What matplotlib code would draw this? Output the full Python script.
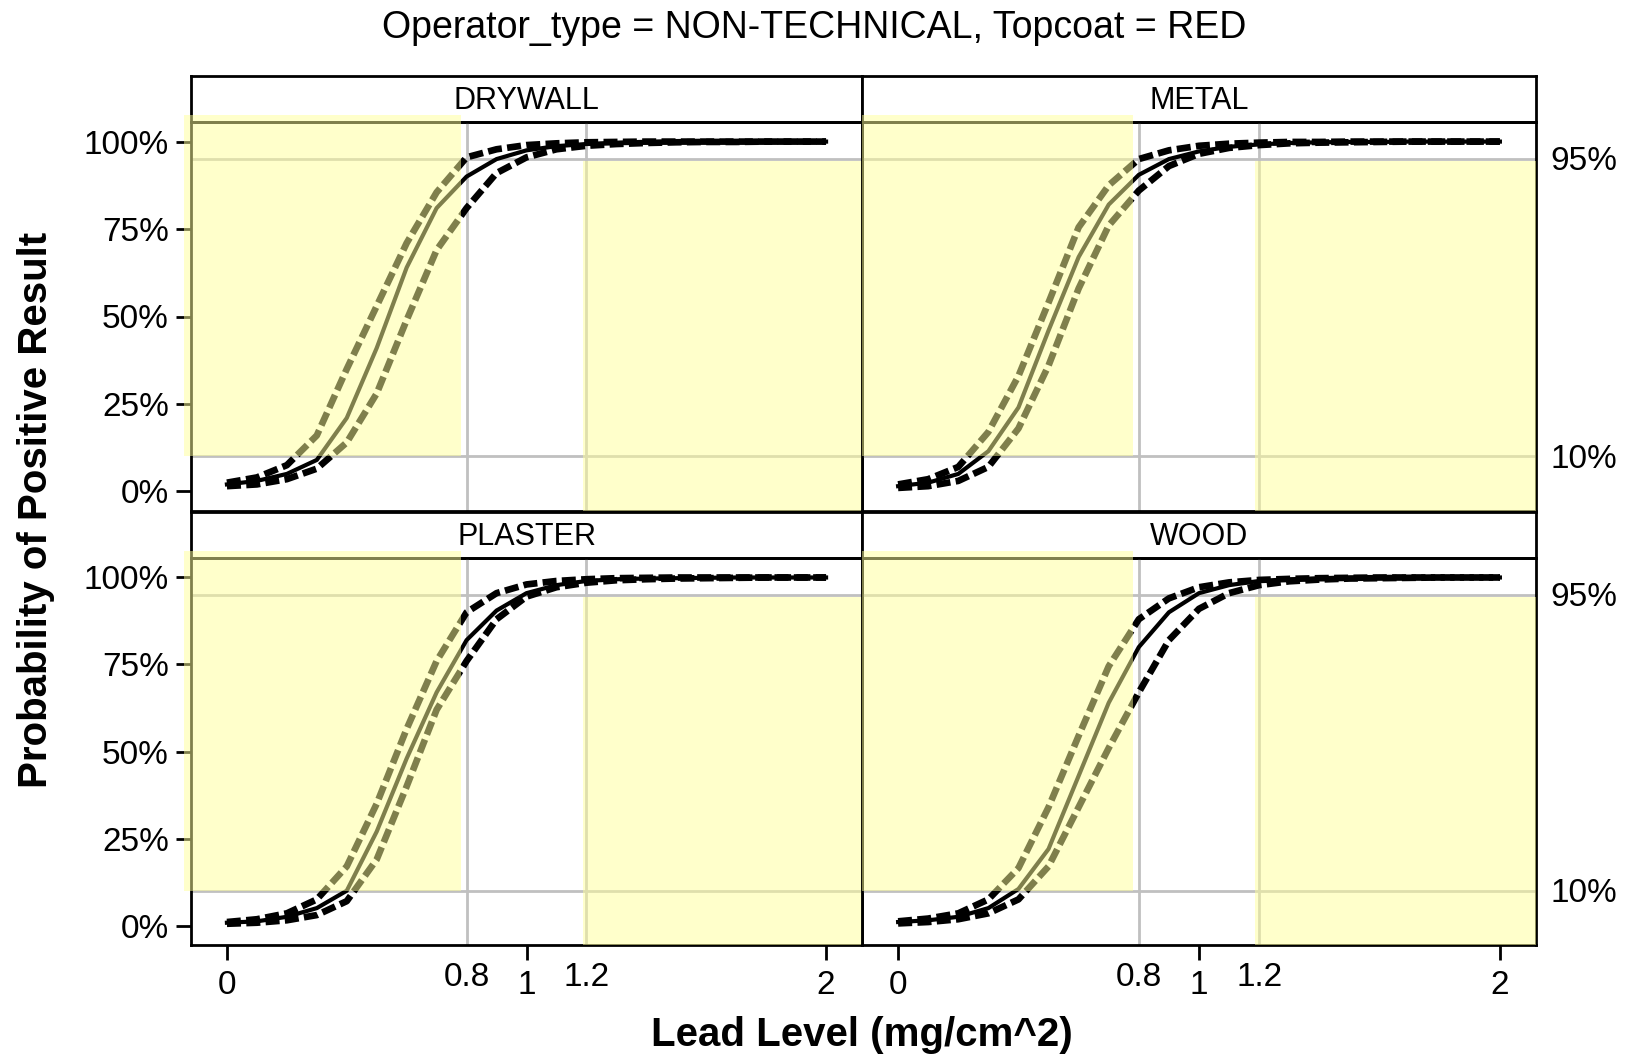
import matplotlib
matplotlib.use("Agg")
import matplotlib.pyplot as plt
import matplotlib.transforms as mtransforms
from matplotlib.patches import Rectangle

plt.rcParams['font.family'] = ['Liberation Sans', 'DejaVu Sans']

# lead level grid (mg/cm^2)
lead = [0.0, 0.1, 0.2, 0.3, 0.4, 0.5, 0.6, 0.7, 0.8, 0.9, 1.0,
        1.1, 1.2, 1.3, 1.4, 1.5, 1.6, 1.7, 1.8, 1.9, 2.0]

substrates = ["DRYWALL", "METAL", "PLASTER", "WOOD"]

# fitted probability and confidence bounds
drywall_fit = [0.02, 0.03, 0.05, 0.09, 0.21, 0.41, 0.64, 0.81, 0.90, 0.95, 0.975,
               0.987, 0.993, 0.996, 0.998, 0.999, 0.999, 1.0, 1.0, 1.0, 1.0]
drywall_upper = [0.025, 0.04, 0.075, 0.16, 0.35, 0.53, 0.71, 0.855, 0.955, 0.978, 0.99,
                 0.995, 0.998, 0.999, 1.0, 1.0, 1.0, 1.0, 1.0, 1.0, 1.0]
drywall_lower = [0.015, 0.02, 0.035, 0.065, 0.14, 0.28, 0.49, 0.69, 0.81, 0.91, 0.955,
                 0.978, 0.988, 0.993, 0.996, 0.998, 0.999, 0.999, 1.0, 1.0, 1.0]

metal_fit = [0.015, 0.025, 0.05, 0.115, 0.24, 0.46, 0.67, 0.82, 0.905, 0.95, 0.972,
             0.985, 0.992, 0.996, 0.998, 0.999, 0.999, 1.0, 1.0, 1.0, 1.0]
metal_upper = [0.02, 0.035, 0.07, 0.17, 0.33, 0.54, 0.755, 0.875, 0.95, 0.975, 0.988,
               0.994, 0.997, 0.999, 0.999, 1.0, 1.0, 1.0, 1.0, 1.0, 1.0]
metal_lower = [0.01, 0.015, 0.03, 0.07, 0.18, 0.36, 0.58, 0.76, 0.86, 0.93, 0.965,
               0.982, 0.99, 0.995, 0.997, 0.998, 0.999, 1.0, 1.0, 1.0, 1.0]

plaster_fit = [0.008, 0.012, 0.025, 0.05, 0.10, 0.27, 0.48, 0.67, 0.82, 0.905, 0.955,
               0.978, 0.99, 0.995, 0.997, 0.998, 0.999, 1.0, 1.0, 1.0, 1.0]
plaster_upper = [0.01, 0.018, 0.035, 0.075, 0.17, 0.35, 0.565, 0.76, 0.90, 0.955, 0.98,
                 0.99, 0.995, 0.998, 0.999, 1.0, 1.0, 1.0, 1.0, 1.0, 1.0]
plaster_lower = [0.005, 0.008, 0.015, 0.03, 0.07, 0.19, 0.40, 0.62, 0.76, 0.88, 0.945,
                 0.972, 0.985, 0.992, 0.995, 0.997, 0.998, 0.999, 1.0, 1.0, 1.0]

wood_fit = [0.01, 0.015, 0.025, 0.05, 0.105, 0.22, 0.43, 0.64, 0.80, 0.90, 0.955,
            0.978, 0.99, 0.995, 0.997, 0.998, 0.999, 1.0, 1.0, 1.0, 1.0]
wood_upper = [0.012, 0.02, 0.035, 0.075, 0.165, 0.34, 0.545, 0.745, 0.88, 0.94, 0.972,
              0.986, 0.993, 0.996, 0.998, 0.999, 1.0, 1.0, 1.0, 1.0, 1.0]
wood_lower = [0.006, 0.01, 0.018, 0.035, 0.075, 0.17, 0.34, 0.51, 0.67, 0.82, 0.91,
              0.955, 0.978, 0.989, 0.994, 0.997, 0.998, 0.999, 1.0, 1.0, 1.0]

curves = {
    "DRYWALL": (drywall_fit, drywall_upper, drywall_lower),
    "METAL": (metal_fit, metal_upper, metal_lower),
    "PLASTER": (plaster_fit, plaster_upper, plaster_lower),
    "WOOD": (wood_fit, wood_upper, wood_lower),
}

# reference lines / shaded zones
x_lines = [0.8, 1.2]
y_lines = [0.10, 0.95]
major_x = [0, 1, 2]
minor_x = [0.8, 1.2]
y_ticks = [0, 0.25, 0.5, 0.75, 1.0]
y_ticklabels = ["0%", "25%", "50%", "75%", "100%"]

W, H = 1629, 1055
fig = plt.figure(figsize=(W / 100, H / 100), dpi=100)

col_x = [(191, 862), (862, 1536)]
row_y = [(76, 122, 511), (512, 558, 945)]   # strip top, plot top, plot bottom
xlim = (-0.12, 2.12)
ylim = (-0.056, 1.056)

for i, name in enumerate(substrates):
    r, c = divmod(i, 2)
    x0, x1 = col_x[c]
    st, pt, pb = row_y[r]
    # strip
    sax = fig.add_axes([x0 / W, 1 - pt / H, (x1 - x0) / W, (pt - st) / H], zorder=1)
    sax.set_xticks([]); sax.set_yticks([])
    for s in sax.spines.values():
        s.set_linewidth(2)
    sax.text(0.5, 0.45, name, ha='center', va='center', fontsize=22, transform=sax.transAxes)

    ax = fig.add_axes([x0 / W, 1 - pb / H, (x1 - x0) / W, (pb - pt) / H], zorder=2)
    ax.patch.set_alpha(0)
    ax.set_xlim(*xlim)
    ax.set_ylim(*ylim)
    for s in ax.spines.values():
        s.set_linewidth(2)

    for xv in x_lines:
        ax.axvline(xv, color='#c0c0c0', lw=2, zorder=1)
    for yv in y_lines:
        ax.axhline(yv, color='#c0c0c0', lw=2, zorder=1)

    fit, upper, lower = curves[name]
    ax.plot(lead, fit, color='black', lw=3, zorder=3)
    ax.plot(lead, upper, color='black', lw=4.8, dashes=(2.1, 0.8), dash_capstyle='butt', zorder=3)
    ax.plot(lead, lower, color='black', lw=4.8, dashes=(2.1, 0.8), dash_capstyle='butt', zorder=3)

    # shaded zones drawn on top, semi transparent
    left_start = -0.145 if c == 0 else xlim[0]
    ax.add_patch(Rectangle((left_start, 0.10), 0.782 - left_start, 1.075 - 0.10,
                           facecolor='#ffff99', alpha=0.5, edgecolor='none',
                           zorder=5, clip_on=False))
    ax.add_patch(Rectangle((1.187, ylim[0]), xlim[1] - 1.187, 0.945 - ylim[0],
                           facecolor='#ffff99', alpha=0.5, edgecolor='none',
                           zorder=5, clip_on=True))

    if c == 0:
        ax.set_yticks(y_ticks)
        ax.set_yticklabels(y_ticklabels)
        ax.tick_params(axis='y', length=11, width=2, pad=5, labelsize=24)
    else:
        ax.set_yticks([])
        trans = mtransforms.blended_transform_factory(ax.transAxes, ax.transData)
        for yv in y_lines:
            ax.text(1.022, yv - 0.008, f"{yv * 100:.0f}%", transform=trans,
                    ha='left', va='center', fontsize=24, clip_on=False)

    if r == 1:
        ax.set_xticks(major_x)
        ax.set_xticklabels([str(v) for v in major_x])
        ax.set_xticks(minor_x, minor=True)
        ax.set_xticklabels([str(v) for v in minor_x], minor=True)
        ax.tick_params(axis='x', which='major', length=11, width=2, pad=7, labelsize=24)
        ax.tick_params(axis='x', which='minor', length=0, pad=12, labelsize=24)
    else:
        ax.set_xticks([])

fig.text(0.5, 1 - 28 / H, "Operator_type = NON-TECHNICAL, Topcoat = RED",
         ha='center', va='center', fontsize=27)
fig.text(862 / W, 1 - 1035 / H, "Lead Level (mg/cm^2)", ha='center', va='center',
         fontsize=29, fontweight='bold')
fig.text(36 / W, 1 - 510 / H, "Probability of Positive Result", ha='center', va='center',
         fontsize=29, fontweight='bold', rotation=90)

fig.savefig("out.png", dpi=100)
